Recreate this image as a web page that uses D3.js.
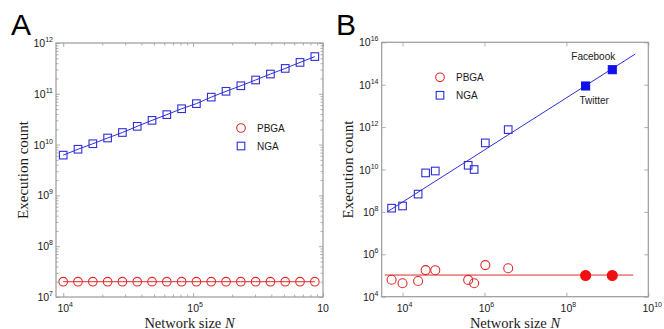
<!DOCTYPE html>
<html>
<head>
<meta charset="utf-8">
<script src="https://cdn.jsdelivr.net/npm/d3@7"></script>
<style>
  html, body { margin: 0; padding: 0; background: #fff; }
  svg { display: block; }
</style>
</head>
<body>
<svg id="chart" width="664" height="329"></svg>
<script>
// ---------- Panel A data ----------
const sizesA = [10000, 13000, 16900, 21970, 28560, 37130, 48270, 62750, 81570,
                106000, 137900, 179200, 233000, 302900, 393700, 511900, 665400, 865000];
const ngaA = [6.2e9, 8.1e9, 1.04e10, 1.35e10, 1.73e10, 2.29e10, 3.0e10, 3.89e10, 5.08e10,
              6.4e10, 8.6e10, 1.12e11, 1.44e11, 1.87e11, 2.45e11, 3.16e11, 4.15e11, 5.4e11];
const pbgaA = [2.0e7, 2.0e7, 2.0e7, 2.0e7, 2.0e7, 2.0e7, 2.0e7, 2.0e7, 2.0e7,
               2.0e7, 2.0e7, 2.0e7, 2.0e7, 2.0e7, 2.0e7, 2.0e7, 2.0e7, 2.0e7];
const xTicksA = [1e4, 1e5, 1e6];
const xTickExpA = ["4", "5", ""];
const yTicksA = [1e7, 1e8, 1e9, 1e10, 1e11, 1e12];
const yTickExpA = ["7", "8", "9", "10", "11", "12"];

// ---------- Panel B data ----------
const sizesB = [5400, 10000, 24000, 36600, 63000, 400000, 560000, 1050000, 3800000];
const ngaB = [1.5e8, 1.9e8, 6.9e8, 6.9e9, 8.5e9, 1.58e10, 1.0e10, 1.8e11, 7.6e11];
const pbgaB = [6.3e4, 4.3e4, 5.5e4, 1.8e5, 1.78e5, 6.2e4, 4.3e4, 3.1e5, 2.2e5];
const largeNames = ["Twitter", "Facebook"];
const largeSizes = [2.95e8, 1.32e9];
const largeNGA = [8.7e13, 5.1e14];
const largePBGA = [1.0e5, 1.0e5];
const fitNgaBx = [4270, 4.8e9];
const fitNgaBy = [1.02e8, 2.8e15];
const fitPbgaBx = [3700, 4.3e9];
const fitPbgaBy = [1.05e5, 1.05e5];
const xTicksB = [1e4, 1e6, 1e8, 1e10];
const xTickExpB = ["4", "6", "8", "10"];
const yTicksB = [1e4, 1e6, 1e8, 1e10, 1e12, 1e14, 1e16];
const yTickExpB = ["4", "6", "8", "10", "12", "14", "16"];

const seriesNames = ["PBGA", "NGA"];

// ---------- styles ----------
const BLUE = "#2f2fd6";
const RED = "#e02a2a";
const AXIS = "#9a9a9a";
const TXT = "#1a1a1a";
const SANS = "'Liberation Sans', Arial, Helvetica, sans-serif";
const SERIF = "'Liberation Serif', 'Times New Roman', serif";

const svg = d3.select("#chart");

function minorTicks(lo, hi, minV, maxV) {
  const out = [];
  for (let d = lo; d < hi; d++) {
    for (let k = 2; k <= 9; k++) {
      const v = k * Math.pow(10, d);
      if (v > minV && v < maxV) out.push(v);
    }
  }
  return out;
}

function drawFrame(g, x, y, xMaj, yMaj, xMin, yMin) {
  const [x0, x1] = x.range();
  const [y0, y1] = y.range(); // y0 bottom, y1 top
  const major = 4, minor = 2.5;
  const axes = [
    {ax: d3.axisBottom(x), tr: `translate(0,${y0})`, maj: xMaj, min: xMin},
    {ax: d3.axisTop(x), tr: `translate(0,${y1})`, maj: xMaj, min: xMin},
    {ax: d3.axisLeft(y), tr: `translate(${x0},0)`, maj: yMaj, min: yMin},
    {ax: d3.axisRight(y), tr: `translate(${x1},0)`, maj: yMaj, min: yMin}
  ];
  axes.forEach(a => {
    if (a.min.length) {
      const gm = g.append("g").attr("transform", a.tr)
        .call(a.ax.tickValues(a.min).tickSizeInner(-minor).tickSizeOuter(0).tickFormat(""));
      gm.select(".domain").remove();
      gm.selectAll(".tick line").attr("stroke", AXIS).attr("stroke-width", 0.8);
    }
    const gM = g.append("g").attr("transform", a.tr)
      .call(a.ax.tickValues(a.maj).tickSizeInner(-major).tickSizeOuter(0).tickFormat(""));
    gM.select(".domain").remove();
    gM.selectAll(".tick line").attr("stroke", AXIS).attr("stroke-width", 0.8);
  });
  g.append("rect")
    .attr("x", x0).attr("y", y1)
    .attr("width", x1 - x0).attr("height", y0 - y1)
    .attr("fill", "none").attr("stroke", AXIS).attr("stroke-width", 1.2);
}

function powLabelY(g, y, xPos, ticks, exps) {
  ticks.forEach((t, i) => {
    const tx = g.append("text")
      .attr("x", xPos).attr("y", y(t) + 4)
      .attr("text-anchor", "end")
      .attr("font-family", SANS).attr("font-size", 10.5).attr("fill", TXT);
    tx.append("tspan").text("10");
    tx.append("tspan").attr("dy", -5).attr("font-size", 7).text(exps[i]);
  });
}

function powLabelX(g, x, yPos, ticks, exps) {
  ticks.forEach((t, i) => {
    const tx = g.append("text")
      .attr("x", x(t) - 5.8).attr("y", yPos)
      .attr("text-anchor", "start")
      .attr("font-family", SANS).attr("font-size", 10.5).attr("fill", TXT);
    tx.append("tspan").text("10");
    if (exps[i]) tx.append("tspan").attr("dy", -5).attr("font-size", 7).text(exps[i]);
  });
}

function axisTitles(g, x, y, yLabelX) {
  const [x0, x1] = x.range();
  const [y0, y1] = y.range();
  const xt = g.append("text")
    .attr("x", (x0 + x1) / 2).attr("y", 327.5)
    .attr("text-anchor", "middle")
    .attr("font-family", SERIF).attr("font-size", 14.5).attr("fill", TXT);
  xt.append("tspan").text("Network size ");
  xt.append("tspan").attr("font-style", "italic").text("N");
  g.append("text")
    .attr("transform", `translate(${yLabelX},${(y0 + y1) / 2}) rotate(-90)`)
    .attr("text-anchor", "middle")
    .attr("font-family", SERIF).attr("font-size", 15).attr("fill", TXT)
    .text("Execution count");
}

function squares(g, pts, size, color, filled) {
  g.selectAll(null).data(pts).enter().append("rect")
    .attr("x", d => d[0] - size / 2).attr("y", d => d[1] - size / 2)
    .attr("width", size).attr("height", size)
    .attr("fill", filled ? color : "none")
    .attr("stroke", color).attr("stroke-width", 1.1);
}
function circles(g, pts, r, color, filled) {
  g.selectAll(null).data(pts).enter().append("circle")
    .attr("cx", d => d[0]).attr("cy", d => d[1]).attr("r", r)
    .attr("fill", filled ? color : "none")
    .attr("stroke", color).attr("stroke-width", 1.1);
}

function legend(g, lx, ly) {
  g.append("circle").attr("cx", lx).attr("cy", ly).attr("r", 4.3)
    .attr("fill", "none").attr("stroke", RED).attr("stroke-width", 1.1);
  g.append("text").attr("x", lx + 16).attr("y", ly + 3.8)
    .attr("font-family", SANS).attr("font-size", 10).attr("fill", TXT).text(seriesNames[0]);
  g.append("rect").attr("x", lx - 3.8).attr("y", ly + 18 - 3.8).attr("width", 7.6).attr("height", 7.6)
    .attr("fill", "none").attr("stroke", BLUE).attr("stroke-width", 1.1);
  g.append("text").attr("x", lx + 16).attr("y", ly + 18 + 3.8)
    .attr("font-family", SANS).attr("font-size", 10).attr("fill", TXT).text(seriesNames[1]);
}

// ================= Panel A =================
{
  const g = svg.append("g");
  const x = d3.scaleLog().domain([8800, 1e6]).range([56, 323]);
  const y = d3.scaleLog().domain([1e7, 1e12]).range([297, 43]);

  drawFrame(g, x, y, xTicksA, yTicksA,
    minorTicks(4, 6, 1e4, 1e6), minorTicks(7, 12, 1e7, 1e12));

  const line = d3.line().x(d => x(d[0])).y(d => y(d[1]));
  const ngaPts = sizesA.map((s, i) => [s, ngaA[i]]);
  const pbgaPts = sizesA.map((s, i) => [s, pbgaA[i]]);
  g.append("path").attr("d", line(ngaPts)).attr("fill", "none").attr("stroke", BLUE).attr("stroke-width", 1);
  g.append("path").attr("d", line(pbgaPts)).attr("fill", "none").attr("stroke", RED).attr("stroke-width", 1);
  squares(g, ngaPts.map(d => [x(d[0]), y(d[1])]), 7.6, BLUE, false);
  circles(g, pbgaPts.map(d => [x(d[0]), y(d[1])]), 4.3, RED, false);

  legend(g, 241, 128);
  powLabelY(g, y, 53, yTicksA, yTickExpA);
  powLabelX(g, x, 311.5, xTicksA, xTickExpA);
  axisTitles(g, x, y, 28);

  g.append("text").attr("x", 11).attr("y", 35)
    .attr("font-family", SANS).attr("font-size", 30).attr("fill", "#000").text("A");
}

// ================= Panel B =================
{
  const g = svg.append("g");
  const x = d3.scaleLog().domain([3100, 1e10]).range([381.7, 648.3]);
  const y = d3.scaleLog().domain([1e4, 1e16]).range([296.7, 42.3]);

  drawFrame(g, x, y, xTicksB, yTicksB, [], []);

  const line = d3.line().x(d => x(d[0])).y(d => y(d[1]));
  g.append("path").attr("d", line(fitNgaBx.map((v, i) => [v, fitNgaBy[i]])))
    .attr("fill", "none").attr("stroke", BLUE).attr("stroke-width", 1);
  g.append("path").attr("d", line(fitPbgaBx.map((v, i) => [v, fitPbgaBy[i]])))
    .attr("fill", "none").attr("stroke", RED).attr("stroke-width", 1);

  squares(g, sizesB.map((s, i) => [x(s), y(ngaB[i])]), 7.6, BLUE, false);
  circles(g, sizesB.map((s, i) => [x(s), y(pbgaB[i])]), 4.5, RED, false);
  squares(g, largeSizes.map((s, i) => [x(s), y(largeNGA[i])]), 8, "#1010e8", true);
  circles(g, largeSizes.map((s, i) => [x(s), y(largePBGA[i])]), 5, "#ee1010", true);

  g.append("text").attr("x", x(largeSizes[1]) - 19).attr("y", y(largeNGA[1]) - 10)
    .attr("text-anchor", "middle").attr("font-family", SANS).attr("font-size", 10).attr("fill", TXT)
    .text(largeNames[1]);
  g.append("text").attr("x", x(largeSizes[0]) + 8.5).attr("y", y(largeNGA[0]) + 18)
    .attr("text-anchor", "middle").attr("font-family", SANS).attr("font-size", 10).attr("fill", TXT)
    .text(largeNames[0]);

  legend(g, 440, 77.3);
  powLabelY(g, y, 378.5, yTicksB, yTickExpB);
  powLabelX(g, x, 311.5, xTicksB, xTickExpB);
  axisTitles(g, x, y, 353);

  g.append("text").attr("x", 336).attr("y", 35)
    .attr("font-family", SANS).attr("font-size", 30).attr("fill", "#000").text("B");
}
</script>
</body>
</html>
